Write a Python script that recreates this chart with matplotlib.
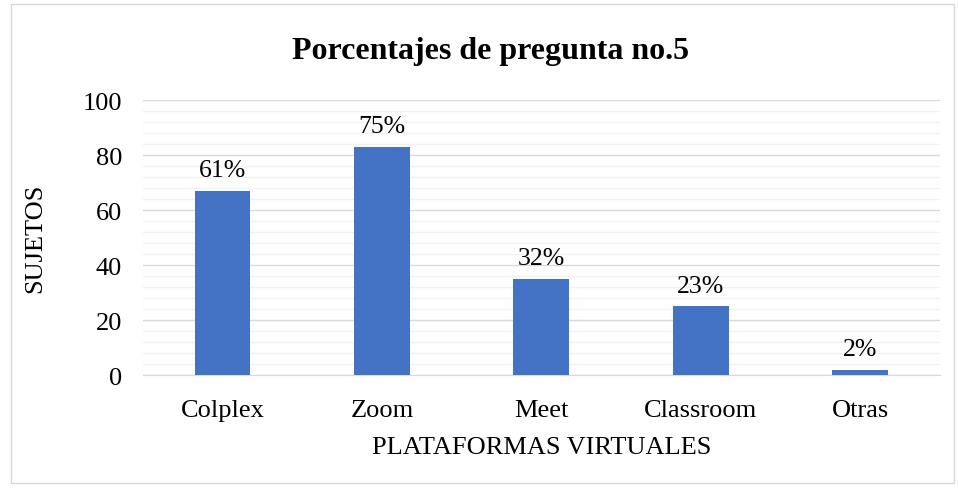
import numpy as np
import matplotlib.pyplot as plt
from matplotlib.patches import Rectangle

plt.rcParams['font.family'] = ['Liberation Serif', 'DejaVu Serif']

plataformas = ['Colplex', 'Zoom', 'Meet', 'Classroom', 'Otras']
sujetos = [67, 83, 35, 25, 2]
porcentajes = ['61%', '75%', '32%', '23%', '2%']

fig = plt.figure(figsize=(9.58, 4.89), dpi=100)
ax = fig.add_axes([0.149, 0.231, 0.832, 0.562])

x = np.arange(len(plataformas))
barras = ax.bar(x, sujetos, width=0.35, color='#4472C4', zorder=3)

for b, p in zip(barras, porcentajes):
    ax.text(b.get_x() + b.get_width()/2, b.get_height() + 3.5, p,
            ha='center', va='bottom', fontsize=18.5)

ax.set_ylim(0, 100)
ax.set_xlim(-0.5, len(plataformas) - 0.5)
ax.set_yticks(np.arange(0, 101, 20))
ax.set_yticks(np.arange(0, 101, 4), minor=True)
ax.grid(axis='y', which='major', color='#d9d9d9', linewidth=1, zorder=0)
ax.grid(axis='y', which='minor', color='#f2f2f2', linewidth=1, zorder=0)
ax.set_xticks(x)
ax.set_xticklabels(plataformas)
ax.tick_params(axis='both', which='both', length=0, labelsize=19)
ax.tick_params(axis='x', pad=17)
ax.tick_params(axis='y', pad=15)
for s in ['top', 'right', 'left']:
    ax.spines[s].set_visible(False)
ax.spines['bottom'].set_color('#d9d9d9')

ax.set_xlabel('PLATAFORMAS VIRTUALES', fontsize=19, labelpad=11)
ax.set_ylabel('SUJETOS', fontsize=19, labelpad=26)
fig.text(0.512, 0.894, 'Porcentajes de pregunta no.5', ha='center', va='center',
         fontsize=23, fontweight='bold')

fig.patches.append(Rectangle((0.011, 0.01), 0.985, 0.98, transform=fig.transFigure,
                             fill=False, edgecolor='#d9d9d9', linewidth=1))

fig.savefig('out.png', dpi=100)
